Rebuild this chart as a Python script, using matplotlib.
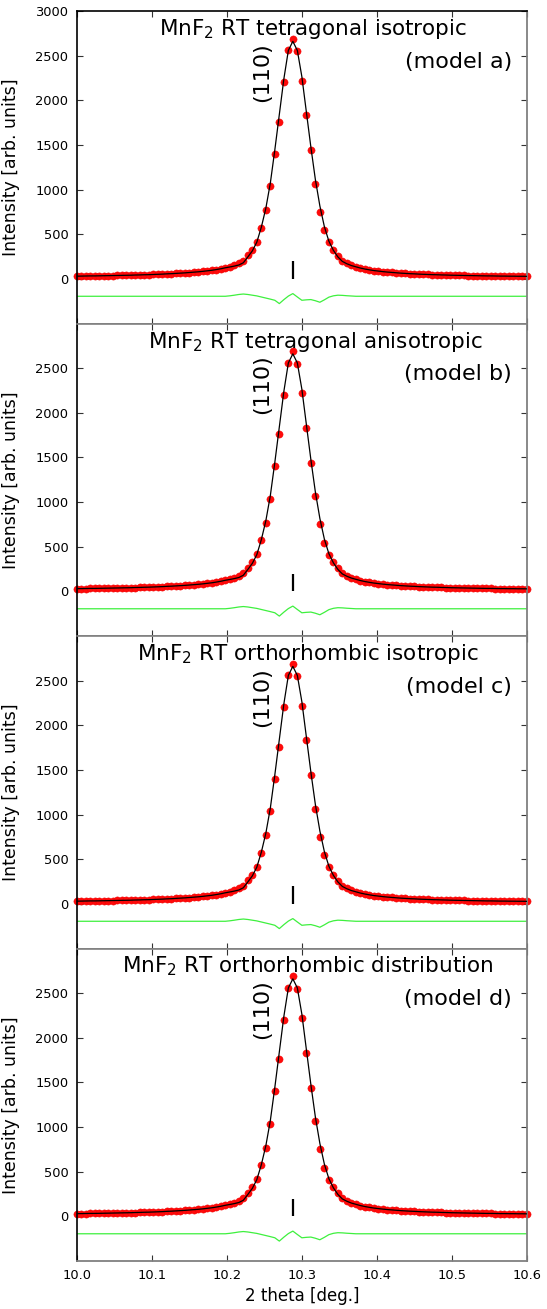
import numpy as np
import matplotlib
matplotlib.use('Agg')
import matplotlib.pyplot as plt

plt.rcParams['font.family'] = ['DejaVu Sans']
plt.rcParams['mathtext.default'] = 'regular'

# ---------------- data ----------------
two_theta = np.linspace(10.0, 10.6, 101)   # scan grid, step 0.006 deg

obs = [30, 31, 32, 33, 33, 34, 35, 36, 37, 38,
       39, 40, 41, 43, 44, 46, 47, 49, 51, 53,
       56, 58, 61, 64, 67, 71, 75, 79, 84, 90,
       96, 104, 113, 124, 138, 155, 175, 205, 265, 325,
       415, 570, 770, 1040, 1400, 1760, 2200, 2560,
       2690,
       2550, 2220, 1830, 1440, 1063, 750, 545, 412, 325, 258,
       205, 175, 152, 135, 121, 110, 101, 93, 87, 81,
       76, 72, 68, 64, 61, 58, 56, 53, 51, 49,
       47, 46, 44, 43, 41, 40, 39, 38, 37, 36,
       35, 34, 33, 33, 32, 31, 31, 30, 30, 29, 29, 28]

diff = [0] * 34 + [5, 12, 20, 25, 20, 12, 4, -8, -20, -32,
                   -45, -82, -38, 2, 30, -8, -45, -40, -37, -50,
                   -67, -40, -10, 5, 12, 10, 6, 3] + [0] * 39

diff_offset = -195
refl_pos = [10.288]
refl_label = '(110)'

titles = [r'MnF$_2$ RT tetragonal isotropic',
          r'MnF$_2$ RT tetragonal anisotropic',
          r'MnF$_2$ RT orthorhombic isotropic',
          r'MnF$_2$ RT orthorhombic distribution']
models = ['(model a)', '(model b)', '(model c)', '(model d)']

yticks_first = [0, 500, 1000, 1500, 2000, 2500, 3000]
yticks_other = [0, 500, 1000, 1500, 2000, 2500]
xticks = [10.0, 10.1, 10.2, 10.3, 10.4, 10.5, 10.6]
xtick_labels = ['10.0', '10.1', '10.2', '10.3', '10.4', '10.5', '10.6']

# ---------------- figure ----------------
W, H = 547, 1309
fig = plt.figure(figsize=(W / 100, H / 100), dpi=100)
left_px, right_px = 76.7, 527.0
top_px, bot_px = 11.0, 1261.0
ph = (bot_px - top_px) / 4

obs_a = np.array(obs, dtype=float)
diff_a = np.array(diff, dtype=float)
calc = obs_a - diff_a

title_x = [0.525, 0.530, 0.514, 0.512]

for i in range(4):
    ax = fig.add_axes([left_px / W, 1 - (top_px + ph * (i + 1)) / H,
                       (right_px - left_px) / W, ph / H])
    ax.plot(two_theta, obs_a, 'o', color='#ff0a0a', ms=5.2, mec='#f00000',
            mew=0.3, zorder=2, clip_on=False)
    ax.plot(two_theta, calc, color='black', lw=0.9, zorder=3)
    ax.plot(two_theta, diff_a + diff_offset, color='#3ef03e', lw=0.9, zorder=2)
    ax.vlines(refl_pos, 0, 200, color='black', lw=1.6, zorder=3)

    ax.set_xlim(10.0, 10.6)
    ax.set_ylim(-500, 3000)
    ax.set_xticks(xticks)
    if i == 3:
        ax.set_xticklabels(xtick_labels)
        ax.set_xlabel('2 theta [deg.]', fontsize=12, labelpad=4)
    else:
        ax.set_xticklabels([])
    ax.set_yticks(yticks_first if i == 0 else yticks_other)
    ax.tick_params(axis='both', direction='in', length=4.5, width=0.8,
                   color='#333333', labelsize=9.4, top=True, right=True)
    ax.tick_params(axis='y', pad=6)
    ax.tick_params(axis='x', pad=5.5)
    ax.set_ylabel('Intensity [arb. units]', fontsize=12.5)
    ax.yaxis.set_label_coords(-0.126, 0.5)

    for side in ['left', 'top']:
        ax.spines[side].set_color('black')
        ax.spines[side].set_linewidth(1.2)
    for side in ['right', 'bottom']:
        ax.spines[side].set_color('#808080')
        ax.spines[side].set_linewidth(1.3)
    if i > 0:
        ax.spines['top'].set_color('#808080')

    ax.text(title_x[i], 0.923, titles[i], transform=ax.transAxes,
            ha='center', va='baseline', fontsize=15.5)
    ax.text(0.967, 0.818, models[i], transform=ax.transAxes,
            ha='right', va='baseline', fontsize=16)
    ax.text(10.247, 2320, refl_label, rotation=90, ha='center', va='center',
            fontsize=16)

fig.savefig('out.png', dpi=100)
